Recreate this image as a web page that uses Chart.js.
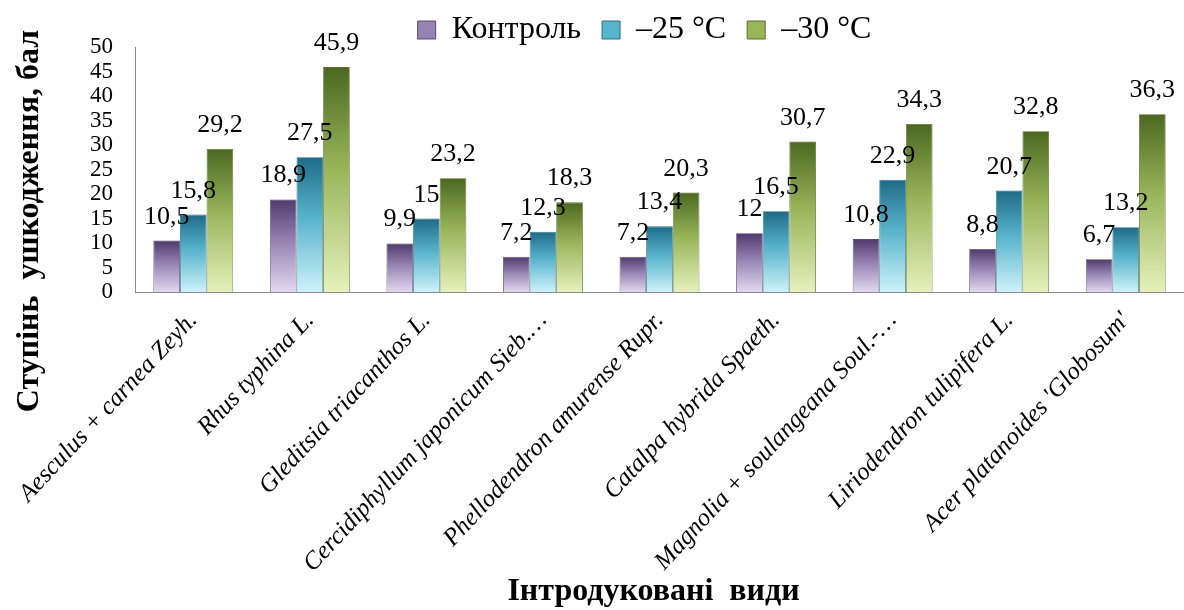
<!DOCTYPE html>
<html>
<head>
<meta charset="utf-8">
<script src="https://cdn.jsdelivr.net/npm/chart.js@4/dist/chart.umd.min.js"></script>
<style>
  html, body { margin: 0; padding: 0; background: #fff; }
  #wrap { width: 1184px; height: 610px; position: relative; }
</style>
</head>
<body>
<div id="wrap"><canvas id="c" width="1184" height="610"></canvas></div>
<script>
const categories = [
  "Aesculus + carnea Zeyh.",
  "Rhus typhina L.",
  "Gleditsia triacanthos L.",
  "Cercidiphyllum japonicum Sieb.…",
  "Phellodendron amurense Rupr.",
  "Catalpa hybrida Spaeth.",
  "Magnolia + soulangeana Soul.-…",
  "Liriodendron tulipifera L.",
  "Acer platanoides 'Globosum'"
];
const seriesNames = ["Контроль", "–25 °C", "–30 °C"];
const control = [10.5, 18.9, 9.9, 7.2, 7.2, 12, 10.8, 8.8, 6.7];
const minus25 = [15.8, 27.5, 15, 12.3, 13.4, 16.5, 22.9, 20.7, 13.2];
const minus30 = [29.2, 45.9, 23.2, 18.3, 20.3, 30.7, 34.3, 32.8, 36.3];
const yMin = 0, yMax = 50, yStep = 5;
const yTitle = "Ступінь  ушкодження, бал";
const xTitle = "Інтродуковані  види";

const palettes = [
  { top: "#4e3b6c", mid: "#9683b3", bottom: "#e3d8f0", border: "#5a4a72" },
  { top: "#1e6b86", mid: "#58b3cc", bottom: "#cdf2fa", border: "#2c6f86" },
  { top: "#4c6820", mid: "#98b55a", bottom: "#e6f1bc", border: "#56702a" }
];

function barFill(idx) {
  return function(ctx) {
    const p = palettes[idx];
    const chart = ctx.chart;
    if (!chart.chartArea || ctx.type !== 'data') return p.mid;
    const ys = chart.scales.y;
    const top = ys.getPixelForValue(ctx.parsed.y);
    const bot = ys.getPixelForValue(0);
    if (!isFinite(top) || !isFinite(bot) || bot - top < 1) return p.mid;
    const g = chart.ctx.createLinearGradient(0, top, 0, bot);
    g.addColorStop(0, p.top);
    g.addColorStop(0.45, p.mid);
    g.addColorStop(1, p.bottom);
    return g;
  };
}

const serif = "'Liberation Serif', 'Times New Roman', serif";

const valueLabels = {
  id: 'valueLabels',
  afterDatasetsDraw(chart) {
    const c = chart.ctx;
    c.save();
    c.font = "26px " + serif;
    c.fillStyle = "#000";
    c.textAlign = "center";
    c.textBaseline = "alphabetic";
    chart.data.datasets.forEach((ds, di) => {
      const meta = chart.getDatasetMeta(di);
      meta.data.forEach((el, i) => {
        const txt = String(ds.data[i]).replace('.', ',');
        c.fillText(txt, el.x, el.y - 17);
      });
    });
    c.restore();
  }
};

const legendShift = {
  id: 'legendShift',
  afterLayout(chart) {
    const lg = chart.legend;
    if (!lg) return;
    lg.top -= 7;
    lg.left -= 15; lg.right -= 15;
  }
};

const axisTitles = {
  id: 'axisTitles',
  afterDraw(chart) {
    const c = chart.ctx;
    const a = chart.chartArea;
    c.save();
    c.fillStyle = "#000";
    c.textAlign = "center";
    c.textBaseline = "middle";
    c.font = "bold 32px " + serif;
    c.fillText(xTitle, (a.left + a.right) / 2 - 6, 592);
    c.font = "bold 32px " + serif;
    c.translate(30, 221);
    c.rotate(-Math.PI / 2);
    c.fillText(yTitle, 0, 0);
    c.restore();
  }
};

const datasets = [control, minus25, minus30].map((arr, i) => ({
  label: seriesNames[i],
  data: arr,
  backgroundColor: barFill(i),
  borderColor: palettes[i].border,
  borderWidth: 0.8,
  categoryPercentage: 0.685,
  barPercentage: 1.0
}));

new Chart(document.getElementById('c'), {
  type: 'bar',
  data: { labels: categories, datasets },
  options: {
    responsive: false,
    animation: false,
    devicePixelRatio: 1,
    layout: { padding: { left: 0, right: -5, top: 0, bottom: 0 } },
    plugins: {
      tooltip: { enabled: false },
      legend: {
        position: 'top',
        fullSize: false,
        maxHeight: 47,
        labels: {
          font: { family: serif, size: 32 },
          color: "#000",
          boxWidth: 18,
          boxHeight: 18,
          padding: 21,
          generateLabels(chart) {
            return chart.data.datasets.map((ds, i) => ({
              text: ds.label,
              fillStyle: palettes[i].mid,
              strokeStyle: palettes[i].border,
              lineWidth: 1,
              datasetIndex: i,
              hidden: false
            }));
          }
        }
      }
    },
    scales: {
      x: {
        grid: { display: false, drawTicks: false },
        border: { display: true, color: "#8c8c8c", width: 1 },
        ticks: {
          autoSkip: false,
          maxRotation: 47,
          minRotation: 47,
          padding: 14,
          color: "#000",
          font: { family: serif, size: 25, style: 'italic' }
        },
        afterFit(scale) {
          scale.height = 318;
          scale.paddingLeft = 0;
          scale.paddingRight = 0;
        }
      },
      y: {
        min: yMin,
        max: yMax,
        grid: { display: false, drawTicks: false },
        border: { display: true, color: "#8c8c8c", width: 1 },
        ticks: {
          stepSize: yStep,
          autoSkip: false,
          padding: 22,
          color: "#000",
          font: { family: serif, size: 23 }
        },
        afterFit(scale) { scale.width = 135; }
      }
    }
  },
  plugins: [legendShift, valueLabels, axisTitles]
});
</script>
</body>
</html>
